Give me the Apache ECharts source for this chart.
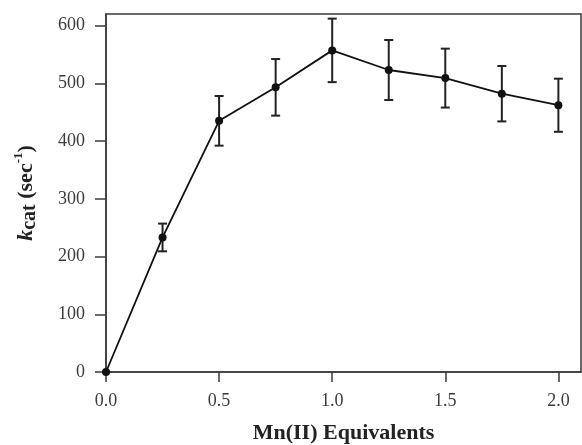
<!DOCTYPE html>
<html>
<head>
<meta charset="utf-8">
<script src="https://cdn.jsdelivr.net/npm/echarts@6/dist/echarts.min.js"></script>
<style>
  html, body { margin: 0; padding: 0; background: #fff; }
  #chart { width: 582px; height: 445px; }
</style>
</head>
<body>
<div id="chart"></div>
<script>
// Mn(II) equivalents and measured turnover numbers with their error bars
const mnEquivalents = [0.0, 0.25, 0.5, 0.75, 1.0, 1.25, 1.5, 1.75, 2.0];
const kcatValues    = [0, 233, 435, 493, 557, 523, 509, 482, 462];
const kcatErrors    = [0, 24, 43, 49, 55, 52, 51, 48, 46];

const xTickValues = [0.0, 0.5, 1.0, 1.5, 2.0];
const yTickValues = [0, 100, 200, 300, 400, 500, 600];

const serifFont = '"Liberation Serif", "Times New Roman", serif';
const ink = '#111';
const frame = '#3a3a3a';
const labelGrey = '#3c3c3c';

const points = mnEquivalents.map((x, i) => [x, kcatValues[i]]);
const errorRows = mnEquivalents.map((x, i) => [x, kcatValues[i] - kcatErrors[i], kcatValues[i] + kcatErrors[i]]);

const chart = echarts.init(document.getElementById('chart'), null, { renderer: 'canvas' });

chart.setOption({
  animation: false,
  backgroundColor: '#fff',
  grid: {
    left: 106, right: 1, top: 14, bottom: 73,
    outerBoundsMode: 'none',
    containLabel: false,
    show: true, borderColor: frame, borderWidth: 1.5, backgroundColor: 'transparent'
  },
  xAxis: {
    type: 'value', min: 0, max: 2.1,
    splitLine: { show: false },
    axisLine: { show: true, onZero: false, lineStyle: { color: frame, width: 1.5 } },
    axisTick: { show: true, inside: false, length: 10, customValues: xTickValues, lineStyle: { color: frame, width: 1.5 } },
    axisLabel: {
      customValues: xTickValues, margin: 20,
      formatter: v => v.toFixed(1),
      fontFamily: serifFont, fontSize: 18, color: labelGrey
    },
    name: 'Mn(II) Equivalents',
    nameLocation: 'middle', nameGap: 50,
    nameTextStyle: { fontFamily: serifFont, fontSize: 22, fontWeight: 'bold', color: '#222' }
  },
  yAxis: {
    type: 'value', min: 0, max: 620,
    splitLine: { show: false },
    axisLine: { show: true, onZero: false, lineStyle: { color: frame, width: 1.5 } },
    axisTick: { show: true, inside: false, length: 11, customValues: yTickValues, lineStyle: { color: frame, width: 1.5 } },
    axisLabel: {
      customValues: yTickValues, margin: 21,
      fontFamily: serifFont, fontSize: 18, color: labelGrey
    },
    name: '{k|k}{sub|cat}{m| (sec}{sup|-1}{m|)}',
    nameLocation: 'middle', nameGap: 66, nameRotate: 90,
    nameTextStyle: {
      fontFamily: serifFont, color: '#222',
      rich: {
        k:   { fontFamily: serifFont, fontSize: 22, fontStyle: 'italic', fontWeight: 'bold', color: '#222', lineHeight: 28, verticalAlign: 'middle' },
        sub: { fontFamily: serifFont, fontSize: 20, fontWeight: 'bold', color: '#222', lineHeight: 28, verticalAlign: 'bottom' },
        m:   { fontFamily: serifFont, fontSize: 22, fontWeight: 'bold', color: '#222', lineHeight: 28, verticalAlign: 'middle' },
        sup: { fontFamily: serifFont, fontSize: 13, fontWeight: 'bold', color: '#222', lineHeight: 28, verticalAlign: 'top' }
      }
    }
  },
  series: [
    {
      type: 'custom',
      data: errorRows,
      encode: { x: 0, y: [1, 2] },
      z: 3,
      renderItem: (params, api) => {
        const x = api.value(0);
        const lo = api.coord([x, api.value(1)]);
        const hi = api.coord([x, api.value(2)]);
        if (Math.abs(lo[1] - hi[1]) < 0.5) return null;
        const cap = 4.5;
        const style = { stroke: '#222', lineWidth: 2 };
        return {
          type: 'group',
          children: [
            { type: 'line', shape: { x1: lo[0], y1: lo[1], x2: hi[0], y2: hi[1] }, style },
            { type: 'line', shape: { x1: hi[0] - cap, y1: hi[1], x2: hi[0] + cap, y2: hi[1] }, style },
            { type: 'line', shape: { x1: lo[0] - cap, y1: lo[1], x2: lo[0] + cap, y2: lo[1] }, style }
          ]
        };
      }
    },
    {
      type: 'line',
      data: points,
      z: 4,
      symbol: 'circle', symbolSize: 8,
      lineStyle: { color: ink, width: 1.8 },
      itemStyle: { color: ink, borderWidth: 0 }
    }
  ]
});
</script>
</body>
</html>
